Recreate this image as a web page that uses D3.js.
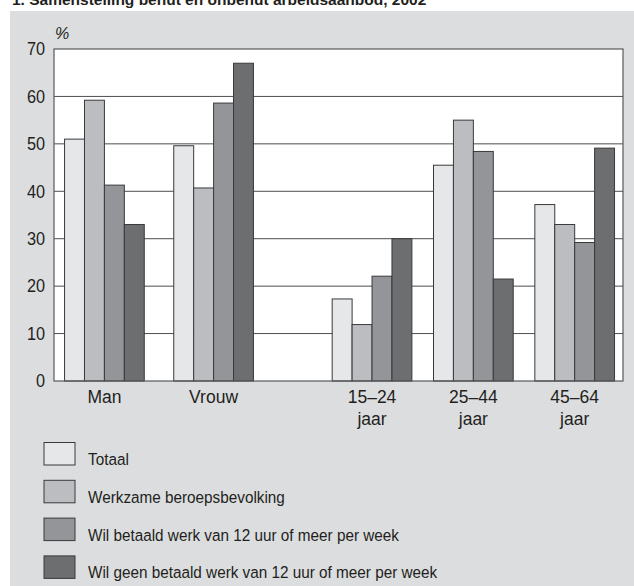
<!DOCTYPE html>
<html>
<head>
<meta charset="utf-8">
<script src="https://cdn.jsdelivr.net/npm/d3@7"></script>
<style>
  body { margin: 0; background: #fff; }
  text { font-family: "Liberation Sans", Arial, sans-serif; fill: #231f20; }
</style>
</head>
<body>
<svg width="634" height="586"></svg>
<script>
var sexGroups = ["Man", "Vrouw"];
var ageGroups = ["15–24 jaar", "25–44 jaar", "45–64 jaar"];
var seriesNames = [
  "Totaal",
  "Werkzame beroepsbevolking",
  "Wil betaald werk van 12 uur of meer per week",
  "Wil geen betaald werk van 12 uur of meer per week"
];
var totaal   = [51, 49.6, 17.3, 45.5, 37.2];
var werkzaam = [59.2, 40.7, 11.9, 55, 33];
var wilWel   = [41.3, 58.6, 22.1, 48.4, 29.2];
var wilGeen  = [33, 67, 30, 21.5, 49.1];
var yTicks = [0, 10, 20, 30, 40, 50, 60, 70];

var colors = ["#e6e7e8", "#bcbdc0", "#939598", "#6d6e70"];

var svg = d3.select("svg"),
    width = +svg.attr("width"),
    height = +svg.attr("height");

var series = [totaal, werkzaam, wilWel, wilGeen];
var groups = sexGroups.concat(ageGroups);
var table = groups.map((g, i) => ({group: g, values: series.map(s => s[i])}));

var plot = {left: 54, right: 623, top: 49, bottom: 381};

// background panel
svg.append("rect")
    .attr("x", 10).attr("y", 11)
    .attr("width", width - 10).attr("height", height - 11)
    .attr("fill", "#dcdddf");

// title (cut off at top in the original)
svg.append("text")
    .attr("x", 12).attr("y", 5)
    .attr("font-size", 15.5).attr("font-weight", "bold")
    .text("1.   Samenstelling benut en onbenut arbeidsaanbod, 2002");

var y = d3.scaleLinear().domain([0, 70]).range([plot.bottom, plot.top]);

// two band scales: sex groups and age groups with a gap between
var xSex = d3.scaleBand().domain(sexGroups).range([52, 266]).paddingInner(0.27).paddingOuter(0.115);
var xAge = d3.scaleBand().domain(ageGroups).range([318, 624]).paddingInner(0.26).paddingOuter(0.14);
function gx(g) { return sexGroups.includes(g) ? xSex(g) : xAge(g); }
var bw = xSex.bandwidth();
var xInner = d3.scaleBand().domain(d3.range(4)).range([0, bw]);

svg.append("rect")
    .attr("x", plot.left).attr("y", plot.top)
    .attr("width", plot.right - plot.left).attr("height", plot.bottom - plot.top)
    .attr("fill", "#fff");

// gridlines
svg.append("g")
    .selectAll("line")
    .data(yTicks.filter(d => d > 0 && d < 70))
    .enter().append("line")
    .attr("x1", plot.left).attr("x2", plot.right)
    .attr("y1", d => y(d)).attr("y2", d => y(d))
    .attr("stroke", "#4d4d4f").attr("stroke-width", 1);

// bars
var gs = svg.append("g").selectAll("g")
    .data(table)
    .enter().append("g")
    .attr("transform", d => "translate(" + gx(d.group) + ",0)");

gs.selectAll("rect")
    .data(d => d.values)
    .enter().append("rect")
    .attr("x", (d, i) => xInner(i))
    .attr("width", xInner.bandwidth())
    .attr("y", d => y(d))
    .attr("height", d => y(0) - y(d))
    .attr("fill", (d, i) => colors[i])
    .attr("stroke", "#3a3a3c").attr("stroke-width", 1);

// frame
svg.append("rect")
    .attr("x", plot.left).attr("y", plot.top)
    .attr("width", plot.right - plot.left).attr("height", plot.bottom - plot.top)
    .attr("fill", "none").attr("stroke", "#58595b").attr("stroke-width", 1.2);

// y axis labels
svg.append("g").selectAll("text")
    .data(yTicks)
    .enter().append("text")
    .attr("transform", d => "translate(45," + y(d) + ") scale(0.93,1)")
    .attr("dy", "0.36em")
    .attr("text-anchor", "end")
    .attr("font-size", 17.5)
    .text(d => d);

svg.append("text")
    .attr("x", 55).attr("y", 39)
    .attr("font-size", 16).attr("font-style", "italic")
    .text("%");

// x labels
var xl = svg.append("g").selectAll("text")
    .data(groups)
    .enter().append("text")
    .attr("x", d => gx(d) + bw / 2)
    .attr("y", 403)
    .attr("text-anchor", "middle")
    .attr("font-size", 17.5);
xl.selectAll("tspan")
    .data(d => d.split(" "))
    .enter().append("tspan")
    .attr("x", function() { return this.parentNode.getAttribute("x"); })
    .attr("dy", (d, i) => i ? 21.5 : 0)
    .text(d => d);

// legend
var leg = svg.append("g").selectAll("g")
    .data(seriesNames)
    .enter().append("g")
    .attr("transform", (d, i) => "translate(44," + (442.5 + i * 37.8) + ")");
leg.append("rect")
    .attr("width", 31).attr("height", 22.5)
    .attr("fill", (d, i) => colors[i])
    .attr("stroke", "#3a3a3c").attr("stroke-width", 1);
leg.append("text")
    .attr("transform", "translate(44,22.5) scale(0.9,1)")
    .attr("font-size", 17)
    .text(d => d);
</script>
</body>
</html>
